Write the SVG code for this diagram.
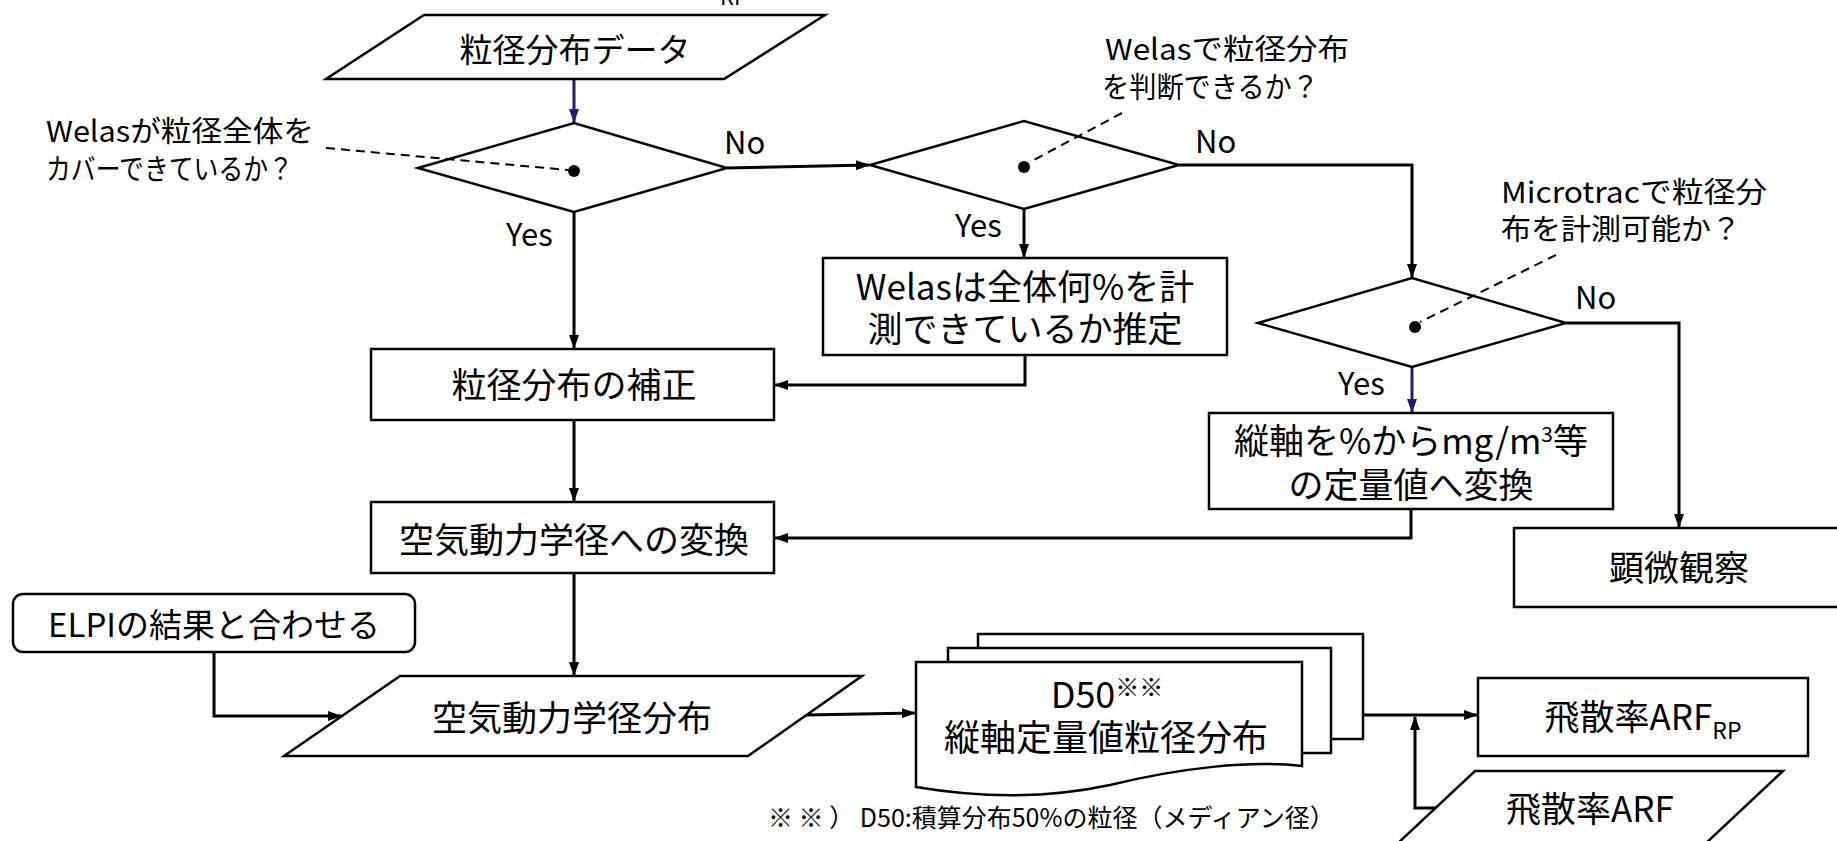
<svg xmlns="http://www.w3.org/2000/svg" width="1837" height="841" viewBox="0 0 1837 841">
<style>
text{font-family:"Noto Sans CJK JP","Noto Sans",sans-serif;fill:#000}
.shape{fill:#fff;stroke:#000;stroke-width:2.5}
.conn{fill:none;stroke:#000;stroke-width:3}
.navy{fill:none;stroke:#1f1f6e;stroke-width:3}
.dash{fill:none;stroke:#000;stroke-width:2;stroke-dasharray:9,6}
.main{font-size:35px}
.note{font-size:29px}
.lbl{font-size:31px}
.mid{text-anchor:middle}
</style>
<defs>
<marker id="ah" viewBox="0 0 14 10" refX="13" refY="5" markerWidth="14" markerHeight="10" markerUnits="userSpaceOnUse" orient="auto"><path d="M0,0 L14,5 L0,10 z" fill="#000"/></marker>
<marker id="ahn" viewBox="0 0 14 10" refX="13" refY="5" markerWidth="14" markerHeight="10" markerUnits="userSpaceOnUse" orient="auto"><path d="M0,0 L14,5 L0,10 z" fill="#1f1f6e"/></marker>
</defs>
<rect width="1837" height="841" fill="#fff"/>
<text x="720" y="5" style="font-size:22px">RP</text>

<g id="connectors">
<path class="navy" d="M574,80 V122" marker-end="url(#ahn)"/>
<path class="conn" d="M574,212 V348" marker-end="url(#ah)"/>
<path class="conn" d="M727,168 L869,165" marker-end="url(#ah)"/>
<path class="conn" d="M1024,209 V257" marker-end="url(#ah)"/>
<path class="conn" d="M1179,165 H1412 V277" marker-end="url(#ah)"/>
<path class="conn" d="M1025,355 V385 H775" marker-end="url(#ah)"/>
<path class="navy" d="M1412,367 V412" marker-end="url(#ahn)"/>
<path class="conn" d="M1566,323 H1679 V527" marker-end="url(#ah)"/>
<path class="conn" d="M1411,509 V538 H775" marker-end="url(#ah)"/>
<path class="conn" d="M574,420 V501" marker-end="url(#ah)"/>
<path class="conn" d="M574,573 V675" marker-end="url(#ah)"/>
<path class="conn" d="M214,652 V716 H341" marker-end="url(#ah)"/>
<path class="conn" d="M806,715 L915,713" marker-end="url(#ah)"/>
<path class="conn" d="M1363,715 H1477" marker-end="url(#ah)"/>
<path class="conn" d="M1436,808 H1415 V717" marker-end="url(#ah)"/>
</g>

<g id="n-data">
<polygon class="shape" points="424,15 825,15 724,79 326,79"/>
<text class="mid" x="575" y="62" style="font-size:33px">粒径分布データ</text>
</g>

<g id="n-d1">
<polygon class="shape" points="418,168 574,123 727,168 574,212"/>
<circle cx="574" cy="171" r="6" fill="#000"/>
<path class="dash" d="M326,148 L568,170"/>
<text class="note" x="46" y="142" textLength="268" lengthAdjust="spacingAndGlyphs">Welasが粒径全体を</text>
<text class="note" x="46" y="180" textLength="247" lengthAdjust="spacingAndGlyphs">カバーできているか？</text>
<text class="lbl" x="724" y="154">No</text>
<text class="lbl" x="506" y="246">Yes</text>
</g>

<g id="n-d2">
<polygon class="shape" points="870,165 1024,121 1179,165 1024,209"/>
<circle cx="1024" cy="167" r="6" fill="#000"/>
<path class="dash" d="M1122,113 L1030,162"/>
<text class="note" x="1105" y="60" textLength="244" lengthAdjust="spacingAndGlyphs">Welasで粒径分布</text>
<text class="note" x="1102" y="98" textLength="217" lengthAdjust="spacingAndGlyphs">を判断できるか？</text>
<text class="lbl" x="1195" y="153">No</text>
<text class="lbl" x="955" y="237">Yes</text>
</g>

<g id="n-d3">
<polygon class="shape" points="1258,323 1412,278 1566,323 1412,367"/>
<circle cx="1415" cy="327" r="6" fill="#000"/>
<path class="dash" d="M1556,255 L1420,322"/>
<text class="note" x="1501" y="203" textLength="266" lengthAdjust="spacingAndGlyphs">Microtracで粒径分</text>
<text class="note" x="1501" y="240" textLength="240" lengthAdjust="spacingAndGlyphs">布を計測可能か？</text>
<text class="lbl" x="1575" y="309">No</text>
<text class="lbl" x="1338" y="395">Yes</text>
</g>

<g id="n-correct">
<rect class="shape" x="371" y="349" width="403" height="71"/>
<text class="main mid" x="574" y="398">粒径分布の補正</text>
</g>

<g id="n-welas">
<rect class="shape" x="823" y="258" width="404" height="97"/>
<text class="main mid" x="1025" y="300">Welasは全体何%を計</text>
<text class="main mid" x="1025" y="342">測できているか推定</text>
</g>

<g id="n-quant">
<rect class="shape" x="1209" y="413" width="404" height="96"/>
<text class="main mid" x="1411" y="454">縦軸を%からmg/m<tspan dy="-12" style="font-size:21px">3</tspan><tspan dy="12">等</tspan></text>
<text class="main mid" x="1411" y="498">の定量値へ変換</text>
</g>

<g id="n-aero">
<rect class="shape" x="371" y="502" width="403" height="71"/>
<text class="main mid" x="574" y="553">空気動力学径への変換</text>
</g>

<g id="n-micro">
<rect class="shape" x="1514" y="528" width="336" height="79"/>
<text class="main mid" x="1679" y="581">顕微観察</text>
</g>

<g id="n-elpi">
<rect class="shape" x="13" y="594" width="402" height="58" rx="10"/>
<text class="mid" x="214" y="637" style="font-size:33px">ELPIの結果と合わせる</text>
</g>

<g id="n-aerodist">
<polygon class="shape" points="400,676 862,676 748,756 284,756"/>
<text class="main mid" x="572" y="731">空気動力学径分布</text>
</g>

<g id="n-doc">
<rect class="shape" x="978" y="634" width="385" height="105"/>
<rect class="shape" x="948" y="648" width="383" height="105"/>
<path class="shape" d="M916,662 H1302 V766 C1250,760 1180,768 1110,785 C1040,800 975,797 916,787 Z"/>
<text class="mid" x="1107" y="708" style="font-size:36px">D50<tspan dy="-12" style="font-size:24px">※※</tspan></text>
<text class="mid" x="1106" y="751" style="font-size:36px">縦軸定量値粒径分布</text>
</g>

<g id="n-arfrp">
<rect class="shape" x="1478" y="678" width="330" height="78"/>
<text class="main mid" x="1643" y="730">飛散率ARF<tspan dy="9" style="font-size:23px">RP</tspan></text>
</g>

<g id="n-arf">
<polygon class="shape" points="1475,771 1783,771 1688,860 1380,860"/>
<text class="main mid" x="1590" y="822">飛散率ARF</text>
</g>

<text x="768" y="827" style="font-size:25px">※ ※ ） D50:積算分布50%の粒径（メディアン径）</text>
</svg>
